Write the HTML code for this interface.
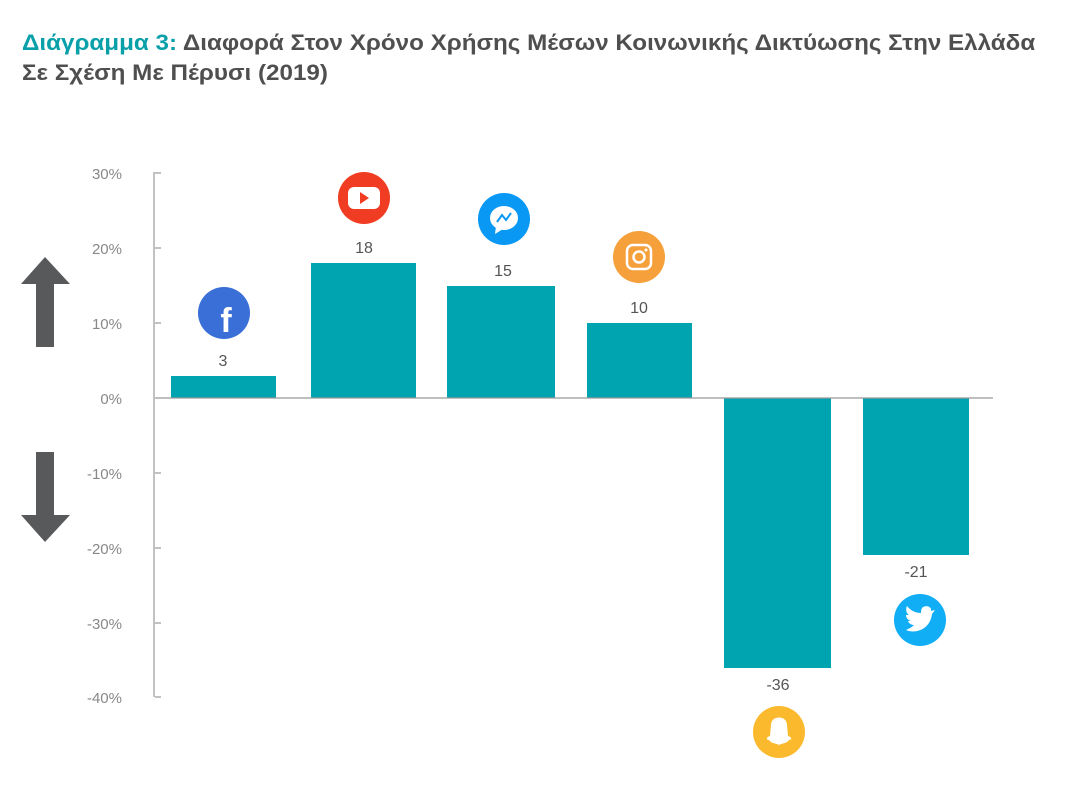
<!DOCTYPE html>
<html><head><meta charset="utf-8"><style>
body{margin:0;background:#fff;width:1068px;height:785px;overflow:hidden;font-family:"Liberation Sans",sans-serif}
.t{position:absolute;left:22px;font-size:22px;font-weight:bold;color:#4f4f4f;white-space:nowrap;transform:scaleX(1.1);transform-origin:0 0}
</style></head><body>
<div class="t" style="top:30px"><span style="color:#0aa0aa">Διάγραμμα 3:</span> Διαφορά Στον Χρόνο Χρήσης Μέσων Κοινωνικής Δικτύωσης Στην Ελλάδα</div>
<div class="t" style="top:60px">Σε Σχέση Με Πέρυσι (2019)</div>
<svg width="1068" height="785" style="position:absolute;left:0;top:0">
<g font-family="Liberation Sans, sans-serif" font-size="15" fill="#888" text-anchor="end">
<text x="122" y="179">30%</text><text x="122" y="254">20%</text><text x="122" y="329">10%</text><text x="122" y="404">0%</text>
<text x="122" y="479">-10%</text><text x="122" y="554">-20%</text><text x="122" y="629">-30%</text><text x="122" y="703">-40%</text>
</g>
<g stroke="#999" stroke-width="1.2">
<line x1="154" y1="172" x2="154" y2="697"/>
<line x1="155" y1="173" x2="161" y2="173"/><line x1="155" y1="248" x2="161" y2="248"/><line x1="155" y1="323" x2="161" y2="323"/>
<line x1="155" y1="473" x2="161" y2="473"/><line x1="155" y1="548" x2="161" y2="548"/><line x1="155" y1="623" x2="161" y2="623"/><line x1="155" y1="697" x2="161" y2="697"/>
</g>
<g fill="#00a3b0">
<rect x="171" y="376" width="105" height="22"/>
<rect x="311" y="263" width="105" height="135"/>
<rect x="447" y="286" width="108" height="112"/>
<rect x="587" y="323" width="105" height="75"/>
<rect x="724" y="398" width="107" height="270"/>
<rect x="863" y="398" width="106" height="157"/>
</g>
<line x1="155" y1="398" x2="993" y2="398" stroke="#999" stroke-width="1.2"/>
<g font-family="Liberation Sans, sans-serif" font-size="16" fill="#555" text-anchor="middle">
<text x="223" y="366">3</text><text x="364" y="253">18</text><text x="503" y="276">15</text><text x="639" y="313">10</text>
<text x="778" y="690">-36</text><text x="916" y="577">-21</text>
</g>
<g fill="#58595b">
<polygon points="21,284 45,257 70,284 54,284 54,347 36,347 36,284"/>
<polygon points="21,515 45,542 70,515 54,515 54,452 36,452 36,515"/>
</g>
<circle cx="224" cy="313" r="26" fill="#3a6fd8"/>
<text x="226" y="332" font-family="Liberation Sans,sans-serif" font-size="34" font-weight="bold" fill="#fff" text-anchor="middle">f</text>
<circle cx="364" cy="198" r="26" fill="#f03c22"/>
<rect x="348" y="187" width="32" height="22" rx="6" fill="#fff"/>
<polygon points="360,192 369,198 360,204" fill="#f03c22"/>
<circle cx="504" cy="219" r="26" fill="#0a98f5"/>
<ellipse cx="504" cy="218" rx="14" ry="12" fill="#fff"/><polygon points="496,226 495,234 503,229" fill="#fff"/>
<polyline points="497,222 502,215 506,220 511,213" fill="none" stroke="#0a98f5" stroke-width="2"/>
<circle cx="639" cy="257" r="26" fill="#f5a03a"/>
<rect x="627" y="245" width="24" height="24" rx="6" fill="none" stroke="#fff" stroke-width="2.5"/>
<circle cx="639" cy="257" r="5.5" fill="none" stroke="#fff" stroke-width="2.5"/><circle cx="646" cy="250" r="1.5" fill="#fff"/>
<circle cx="779" cy="732" r="26" fill="#fbb92e"/>
<path d="M769,740 C766,740 766,737 770,736 L771,725 C771,715 787,715 787,725 L788,736 C792,737 792,740 789,740 C786,744 782,743 779,745 C776,743 772,744 769,740Z" fill="#fff"/>
<circle cx="920" cy="620" r="26" fill="#12aef5"/>
<path d="M906,630 C915,634 930,630 932,614 L935,610 L931,611 C932,607 926,604 922,608 C921,610 921,611 921,613 C915,613 910,610 907,606 C905,610 907,614 909,615 L906,615 C906,618 908,620 911,621 L908,621 C909,624 912,625 914,625 C911,628 908,629 906,630Z" fill="#fff"/>
</svg>
</body></html>
